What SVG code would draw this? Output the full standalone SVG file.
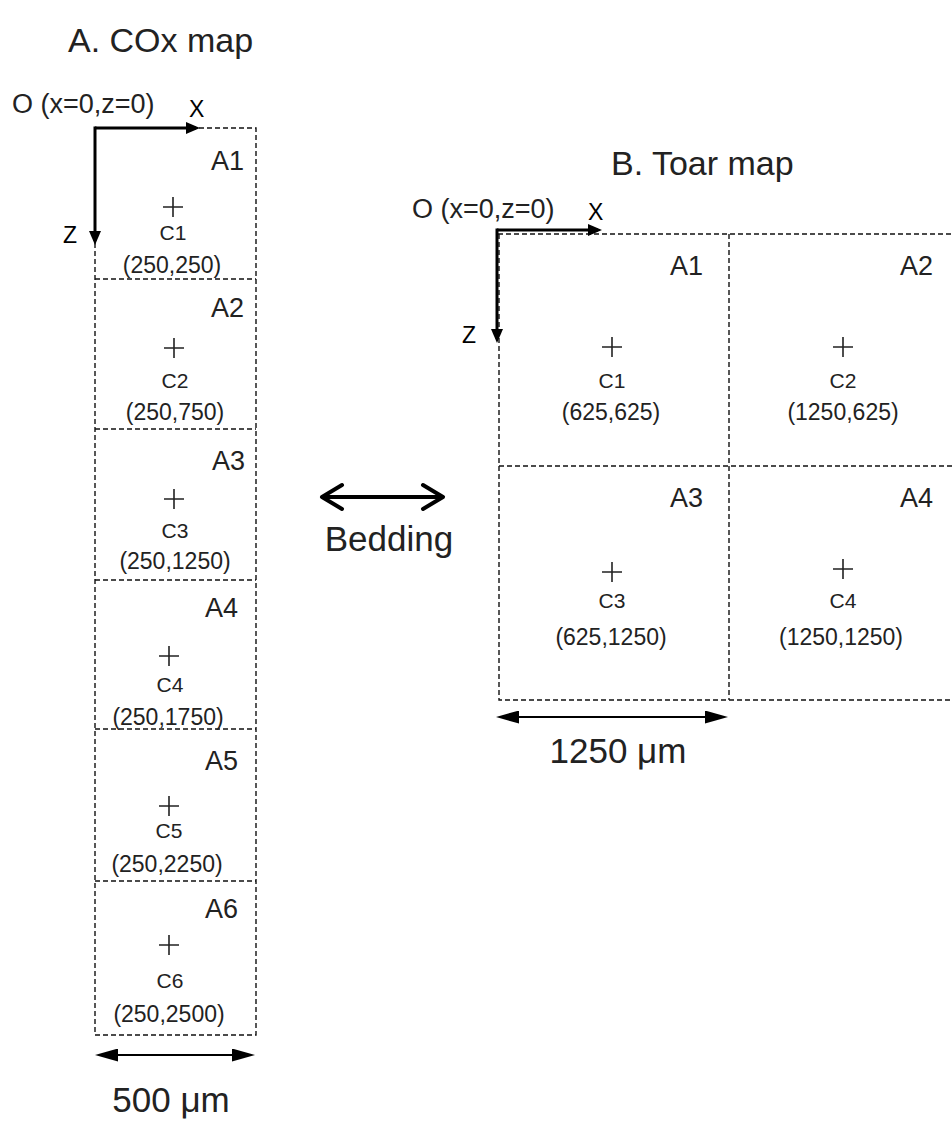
<svg xmlns="http://www.w3.org/2000/svg" width="952" height="1128" viewBox="0 0 952 1128">
<style>
text{font-family:"Liberation Sans",Arial,sans-serif;fill:#222}
.title{font-size:34px}
.big{font-size:35px}
.orig{font-size:27px}
.ax{font-size:23px;fill:#000}
.al{font-size:27px;text-anchor:end}
.cl{font-size:21px;text-anchor:middle}
.co{font-size:23px;text-anchor:middle}
.mid{text-anchor:middle}
.dash{stroke:#111;stroke-width:1.4;stroke-dasharray:5,3;fill:none}
.plus{stroke:#222;stroke-width:1.6;fill:none}
.axis{stroke:#000;stroke-width:3;fill:none}
.scale{stroke:#000;stroke-width:2;fill:none}
.bed{stroke:#000;stroke-width:4;fill:none}
</style>
<defs>
<marker id="axhead" markerUnits="userSpaceOnUse" markerWidth="14" markerHeight="12" viewBox="0 0 14 12" refX="10" refY="6" orient="auto"><path d="M0,0 L14,6 L0,12 z" fill="#000"/></marker>
<marker id="schead" markerUnits="userSpaceOnUse" markerWidth="23" markerHeight="13" viewBox="0 0 23 13" refX="19" refY="6.5" orient="auto-start-reverse"><path d="M0,0 L23,6.5 L0,13 z" fill="#000"/></marker>
<marker id="chev" markerUnits="userSpaceOnUse" markerWidth="30" markerHeight="30" viewBox="0 0 30 30" refX="24" refY="15" orient="auto-start-reverse"><path d="M4,3 L24,15 L4,27" fill="none" stroke="#000" stroke-width="4" stroke-linejoin="round" stroke-linecap="round"/></marker>
</defs>

<text class="title" x="68" y="52">A. COx map</text>
<text class="title" x="611" y="175">B. Toar map</text>

<g id="mapA">
<rect class="dash" x="95" y="128" width="161" height="907"/>
<g id="A1"><line class="dash" x1="95" y1="279" x2="256" y2="279"/><text class="al" x="244" y="170">A1</text><path class="plus" d="M163,207 h20 M173,197 v20"/><text class="cl" x="173" y="240">C1</text><text class="co" x="172" y="273">(250,250)</text></g>
<g id="A2"><line class="dash" x1="95" y1="429" x2="256" y2="429"/><text class="al" x="244" y="317">A2</text><path class="plus" d="M164,348 h20 M174,338 v20"/><text class="cl" x="175" y="388">C2</text><text class="co" x="175" y="420">(250,750)</text></g>
<g id="A3"><line class="dash" x1="95" y1="580" x2="256" y2="580"/><text class="al" x="245" y="470">A3</text><path class="plus" d="M164,499 h20 M174,489 v20"/><text class="cl" x="175" y="538">C3</text><text class="co" x="175" y="569">(250,1250)</text></g>
<g id="A4"><line class="dash" x1="95" y1="729" x2="256" y2="729"/><text class="al" x="238" y="617">A4</text><path class="plus" d="M159,656 h20 M169,646 v20"/><text class="cl" x="170" y="692">C4</text><text class="co" x="168" y="725">(250,1750)</text></g>
<g id="A5"><line class="dash" x1="95" y1="881" x2="256" y2="881"/><text class="al" x="238" y="770">A5</text><path class="plus" d="M159,806 h20 M169,796 v20"/><text class="cl" x="169" y="838">C5</text><text class="co" x="167" y="872">(250,2250)</text></g>
<g id="A6"><text class="al" x="238" y="918">A6</text><path class="plus" d="M159,945 h20 M169,935 v20"/><text class="cl" x="170" y="988">C6</text><text class="co" x="169" y="1022">(250,2500)</text></g>
</g>

<g id="mapB">
<path class="dash" d="M498,234 H952 M499,234 V700 H952 M499,466 H952 M729,234 V700"/>
<g id="B1"><text class="al" x="703" y="275">A1</text><path class="plus" d="M602,347 h20 M612,337 v20"/><text class="cl" x="612" y="388">C1</text><text class="co" x="611" y="420">(625,625)</text></g>
<g id="B2"><text class="al" x="933" y="275">A2</text><path class="plus" d="M833,347 h20 M843,337 v20"/><text class="cl" x="843" y="388">C2</text><text class="co" x="843" y="420">(1250,625)</text></g>
<g id="B3"><text class="al" x="703" y="507">A3</text><path class="plus" d="M602,572 h20 M612,562 v20"/><text class="cl" x="612" y="608">C3</text><text class="co" x="611" y="645">(625,1250)</text></g>
<g id="B4"><text class="al" x="933" y="507">A4</text><path class="plus" d="M833,569 h20 M843,559 v20"/><text class="cl" x="843" y="608">C4</text><text class="co" x="841" y="645">(1250,1250)</text></g>
</g>

<g id="labels">
<text class="orig" x="12" y="113">O (x=0,z=0)</text>
<text class="ax" x="189" y="117">X</text>
<text class="ax" x="63" y="243">Z</text>
<text class="orig" x="412" y="218">O (x=0,z=0)</text>
<text class="ax" x="588" y="220">X</text>
<text class="ax" x="462" y="343">Z</text>
<text class="big mid" x="389" y="551">Bedding</text>
<text class="big mid" x="618" y="763">1250 μm</text>
<text class="big mid" x="171" y="1112">500 μm</text>
</g>

<g id="connectors">
<path class="axis" d="M95,128 H196" marker-end="url(#axhead)"/>
<path class="axis" d="M95,126.5 V241" marker-end="url(#axhead)"/>
<path class="axis" d="M497,230 H598" marker-end="url(#axhead)"/>
<path class="axis" d="M497,228.5 V339" marker-end="url(#axhead)"/>
<path class="bed" d="M322,497 H443" marker-start="url(#chev)" marker-end="url(#chev)"/>
<path class="scale" d="M500,717 H724" marker-start="url(#schead)" marker-end="url(#schead)"/>
<path class="scale" d="M99,1055 H251" marker-start="url(#schead)" marker-end="url(#schead)"/>
</g>
</svg>
